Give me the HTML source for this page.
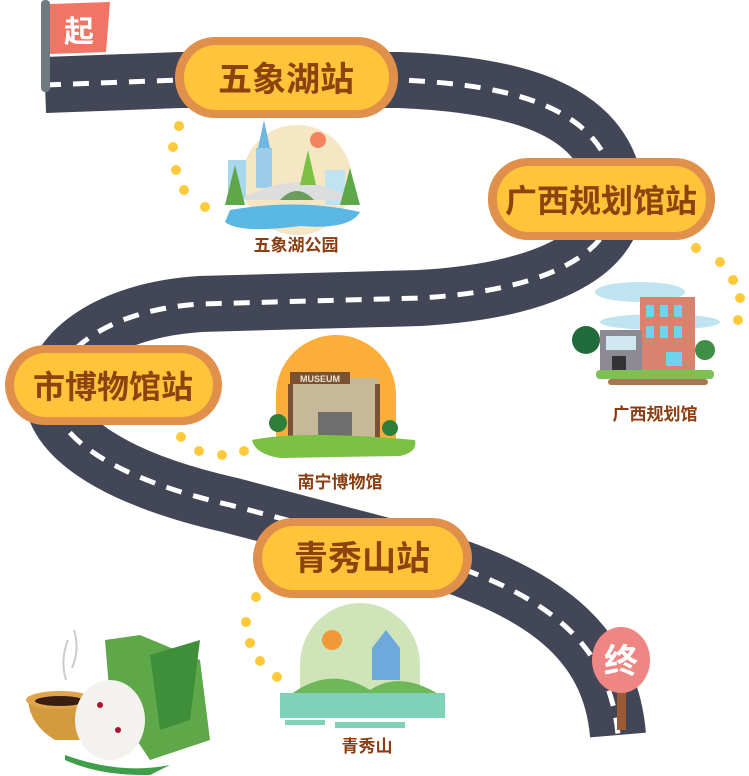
<!DOCTYPE html>
<html><head><meta charset="utf-8"><style>
html,body{margin:0;padding:0;background:#fff;}
svg{display:block;}
text{font-family:"Liberation Sans","WenQuanYi Zen Hei","Noto Sans CJK SC",sans-serif;font-weight:bold;}
</style></head><body>
<svg width="749" height="776" viewBox="0 0 749 776" xmlns="http://www.w3.org/2000/svg">
<!-- road -->
<path d="M45 85 L180 80 L400 80 C520 85 600 110 615 185 C625 245 560 290 420 298 L200 304 C110 310 55 350 52 395 C55 440 120 480 230 505 L420 555 C540 590 610 640 618 735" fill="none" stroke="#424656" stroke-width="56" stroke-linecap="butt"/>
<path d="M45 85 L180 80 L400 80 C520 85 600 110 615 185 C625 245 560 290 420 298 L200 304 C110 310 55 350 52 395 C55 440 120 480 230 505 L420 555 C540 590 610 640 618 735" fill="none" stroke="#fff" stroke-width="5" stroke-dasharray="16 12"/>
<!-- flag -->
<rect x="41" y="0" width="9" height="92" rx="4" fill="#6e7c80"/>
<path d="M50 4 L110 2 L106 52 L50 54 Z" fill="#F07564"/>
<text x="79" y="42" font-size="30" fill="#fff" text-anchor="middle">起</text>
<!-- end sign -->
<rect x="617" y="680" width="9" height="50" fill="#9a5a35"/>
<ellipse cx="621" cy="660" rx="29" ry="33" fill="#EE8684"/>
<text x="621" y="673" font-size="34" fill="#fff" text-anchor="middle">终</text>
<!-- dots -->
<g fill="#FFC93A">
<circle cx="179" cy="126" r="5"/><circle cx="173" cy="147" r="5"/><circle cx="176" cy="170" r="5"/><circle cx="184" cy="190" r="5"/><circle cx="205" cy="207" r="5"/>
<circle cx="696" cy="248" r="5"/><circle cx="720" cy="262" r="5"/><circle cx="733" cy="280" r="5"/><circle cx="740" cy="298" r="5"/><circle cx="738" cy="320" r="5"/>
<circle cx="181" cy="437" r="5"/><circle cx="199" cy="451" r="5"/><circle cx="222" cy="455" r="5"/><circle cx="244" cy="451" r="5"/>
<circle cx="256" cy="597" r="5"/><circle cx="246" cy="622" r="5"/><circle cx="250" cy="643" r="5"/><circle cx="260" cy="661" r="5"/><circle cx="277" cy="677" r="5"/>
</g>
<!-- pills -->
<g>
<rect x="175" y="37" width="223" height="81" rx="40" fill="#E0904A"/><rect x="184" y="45" width="205" height="65" rx="32" fill="#FFC43A"/>
<text x="286" y="91" font-size="34" fill="#8E430F" text-anchor="middle">五象湖站</text>
<rect x="488" y="158" width="227" height="82" rx="40" fill="#E0904A"/><rect x="497" y="166" width="209" height="66" rx="32" fill="#FFC43A"/>
<text x="601" y="212" font-size="32" fill="#8E430F" text-anchor="middle">广西规划馆站</text>
<rect x="5" y="345" width="217" height="80" rx="40" fill="#E0904A"/><rect x="14" y="353" width="199" height="64" rx="32" fill="#FFC43A"/>
<text x="113" y="398" font-size="32" fill="#8E430F" text-anchor="middle">市博物馆站</text>
<rect x="253" y="518" width="219" height="80" rx="40" fill="#E0904A"/><rect x="262" y="526" width="201" height="64" rx="32" fill="#FFC43A"/>
<text x="362" y="570" font-size="34" fill="#8E430F" text-anchor="middle">青秀山站</text>
</g>
<!-- illustration 1: 五象湖公园 -->
<circle cx="297" cy="180" r="55" fill="#F5E6C4"/>
<circle cx="318" cy="140" r="8" fill="#F4845F"/>
<rect x="228" y="160" width="18" height="40" fill="#A9D7EE"/>
<path d="M258 148 L264 120 L270 148 Z" fill="#6FB6E0"/><rect x="256" y="148" width="16" height="40" fill="#9CCDE8"/>
<rect x="325" y="170" width="20" height="35" fill="#BFE3F2"/>
<path d="M240 200 Q300 165 352 200 Z" fill="#DDDDDD"/>
<path d="M280 200 Q297 182 314 200 Z" fill="#6B9E5C"/>
<path d="M225 205 L235 165 L245 205 Z" fill="#5FA84A"/><path d="M340 205 L350 168 L360 205 Z" fill="#5FA84A"/><path d="M300 185 L308 150 L316 185 Z" fill="#7BC143"/>
<path d="M230 210 Q300 198 360 212 Q350 230 300 226 Q240 234 225 222 Z" fill="#5BB7E3"/>
<text x="296" y="251" font-size="17" fill="#8A3D10" text-anchor="middle">五象湖公园</text>
<!-- illustration 2: 广西规划馆 -->
<ellipse cx="640" cy="292" rx="45" ry="10" fill="#BFE3F0"/><ellipse cx="660" cy="322" rx="60" ry="8" fill="#BFE3F0"/>
<rect x="640" y="297" width="55" height="75" fill="#D9826E"/>
<g fill="#6FD3EE"><rect x="646" y="305" width="8" height="12"/><rect x="660" y="305" width="8" height="12"/><rect x="674" y="305" width="8" height="12"/><rect x="646" y="326" width="8" height="12"/><rect x="660" y="326" width="8" height="12"/><rect x="674" y="326" width="8" height="12"/><rect x="666" y="352" width="16" height="14"/></g>
<rect x="600" y="330" width="42" height="42" fill="#8E8A94"/><rect x="606" y="336" width="30" height="14" fill="#CFE9F3"/><rect x="612" y="356" width="14" height="14" fill="#333"/>
<circle cx="586" cy="340" r="14" fill="#1F6B3A"/><circle cx="705" cy="350" r="10" fill="#3E8E46"/>
<rect x="596" y="370" width="118" height="9" rx="4" fill="#7CC152"/><rect x="608" y="379" width="100" height="6" rx="3" fill="#A57752"/>
<text x="655" y="420" font-size="17" fill="#8A3D10" text-anchor="middle">广西规划馆</text>
<!-- illustration 3: 南宁博物馆 -->
<path d="M276 440 L276 395 A60 60 0 0 1 396 395 L396 440 Z" fill="#FCAE3A"/>
<rect x="290" y="378" width="88" height="62" fill="#C8B89A"/><rect x="290" y="372" width="60" height="12" fill="#7A5232"/>
<text x="320" y="382" font-size="9" fill="#F1E6D0" text-anchor="middle">MUSEUM</text>
<rect x="288" y="384" width="5" height="56" fill="#7A5232"/><rect x="375" y="384" width="5" height="56" fill="#7A5232"/>
<rect x="318" y="412" width="34" height="28" fill="#6E6E6E"/>
<circle cx="278" cy="423" r="9" fill="#2F7F3A"/><circle cx="390" cy="428" r="8" fill="#2F7F3A"/>
<path d="M252 440 Q300 430 415 440 Q418 452 400 456 L280 458 Q255 454 252 440 Z" fill="#7BC143"/>
<text x="340" y="488" font-size="17" fill="#8A3D10" text-anchor="middle">南宁博物馆</text>
<!-- illustration 4: 青秀山 -->
<path d="M300 690 L300 665 A60 62 0 0 1 420 665 L420 690 Z" fill="#CFE4B8"/>
<circle cx="332" cy="640" r="10" fill="#F29A38"/>
<path d="M372 680 L372 648 L386 630 L400 648 L400 680 Z" fill="#6FA9DC"/>
<path d="M290 695 Q330 665 370 690 Q400 670 440 695 Z" fill="#6FB85A"/>
<rect x="280" y="693" width="165" height="25" fill="#7ED2B8"/>
<rect x="285" y="720" width="40" height="5" fill="#7ED2B8"/><rect x="335" y="722" width="70" height="6" fill="#7ED2B8"/>
<text x="367" y="752" font-size="17" fill="#8A3D10" text-anchor="middle">青秀山</text>
<!-- zongzi -->
<path d="M68 640 Q60 660 66 680" stroke="#ccc" stroke-width="2" fill="none"/><path d="M74 630 Q80 650 72 668" stroke="#ccc" stroke-width="2" fill="none"/>
<path d="M28 700 Q30 725 55 740 L90 740 Q100 725 95 700 Z" fill="#D39A3E"/>
<ellipse cx="60" cy="700" rx="34" ry="9" fill="#E0A54A"/><ellipse cx="60" cy="701" rx="25" ry="5" fill="#3A1E10"/>
<path d="M105 640 L140 635 L200 660 L210 740 L150 760 L110 700 Z" fill="#5FA84A"/>
<path d="M150 655 L200 640 L190 720 L160 730 Z" fill="#3E8E3A"/>
<ellipse cx="110" cy="720" rx="35" ry="40" fill="#F4F2EE"/>
<circle cx="100" cy="705" r="3" fill="#B0122A"/><circle cx="118" cy="730" r="3" fill="#B0122A"/>
<path d="M65 755 Q120 775 170 765 L150 775 Q100 776 65 760 Z" fill="#3E9E4A"/>
</svg>
</body></html>
